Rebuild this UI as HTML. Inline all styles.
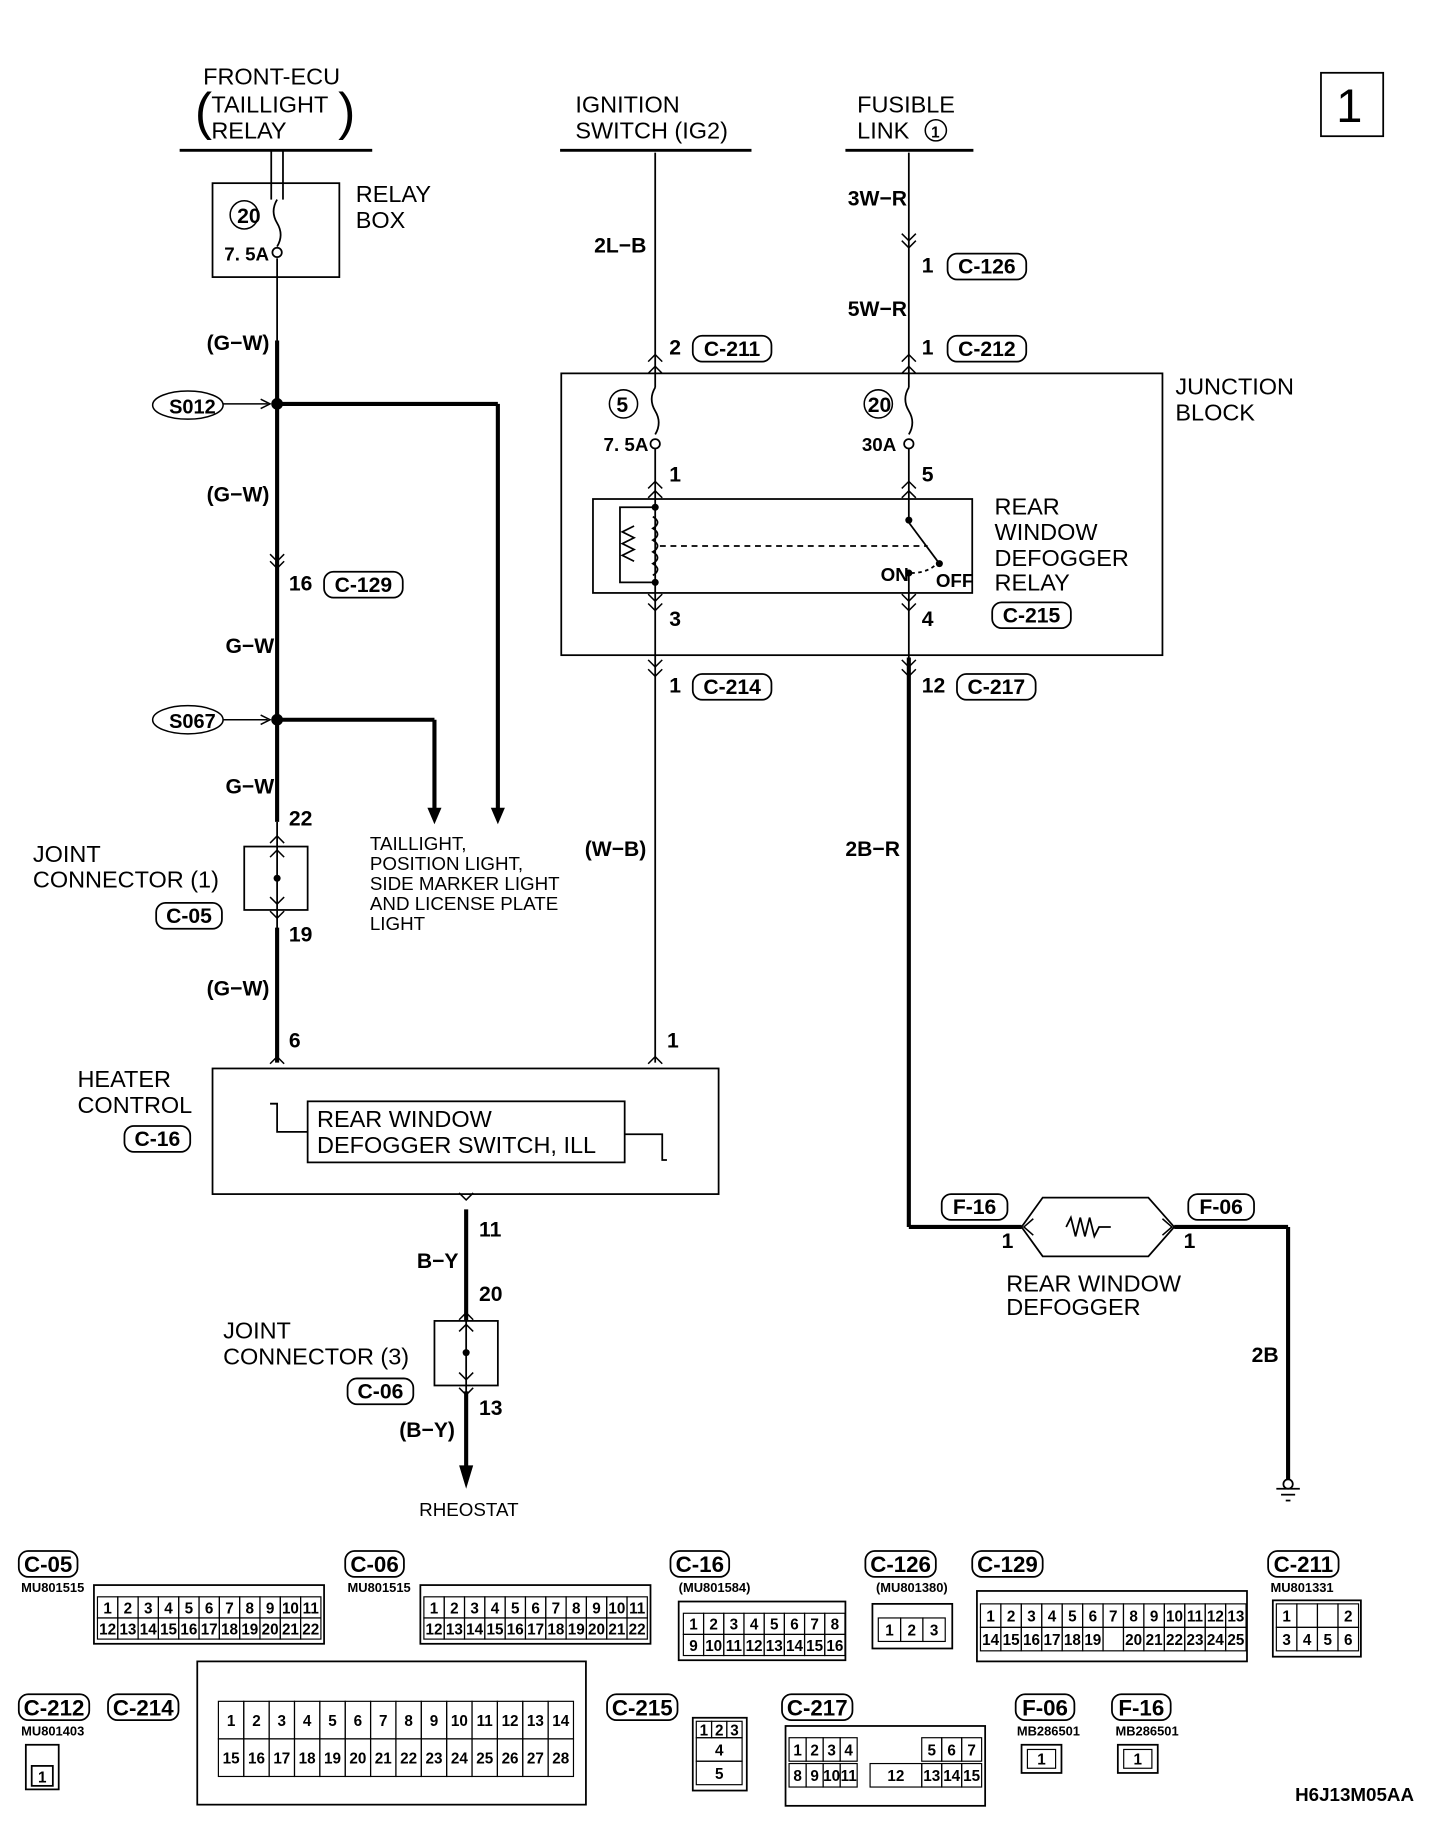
<!DOCTYPE html>
<html><head><meta charset="utf-8"><style>
html,body{margin:0;padding:0;background:#fff}
svg{display:block}
text{font-family:"Liberation Sans",sans-serif;fill:#000}
.b{font-weight:bold}
</style></head><body>
<svg id="s" width="1456" height="1834" viewBox="0 0 1240 1562" preserveAspectRatio="none" xmlns="http://www.w3.org/2000/svg">
<g fill="none" stroke="#000" stroke-width="1.5">
<rect x="1125" y="62" width="53" height="54"/>
<line x1="153" y1="128" x2="317" y2="128" stroke-width="2.5"/>
<line x1="477" y1="128" x2="640" y2="128" stroke-width="2.5"/>
<line x1="720" y1="128" x2="829" y2="128" stroke-width="2.5"/>
<rect x="181" y="156" width="108" height="80"/>
<line x1="231" y1="128" x2="231" y2="170"/><line x1="241" y1="128" x2="241" y2="170"/>
<path d="M236 170 q-6 10 0 20 q6 10 0 20"/>
<circle cx="236" cy="215" r="4"/>
<rect x="478" y="318" width="512" height="240"/>
<rect x="505" y="425" width="323" height="80"/>
<rect x="208" y="721" width="54" height="54"/>
<rect x="181" y="910" width="431" height="107"/>
<rect x="262" y="938" width="270" height="52"/>
<path d="M230 940 h6 v24 h26"/><path d="M532 966 h32 v22 h4"/>
<rect x="370" y="1125" width="54" height="55"/>
<line x1="236" y1="220" x2="236" y2="290"/>
<line x1="558" y1="130" x2="558" y2="330"/>
<line x1="774" y1="130" x2="774" y2="330"/>
<path d="M558 330 q-6 10 0 20 q6 10 0 20"/><circle cx="558" cy="378" r="4"/>
<path d="M774 330 q-6 10 0 20 q6 10 0 20"/><circle cx="774" cy="378" r="4"/>
<line x1="558" y1="382" x2="558" y2="600"/>
<line x1="774" y1="382" x2="774" y2="445"/>
<line x1="774" y1="445" x2="800" y2="480"/>
<line x1="774" y1="488" x2="774" y2="560"/>
<path d="M558 432 h-30 v64 h30"/>
<path d="M540 448 l-10 5 l10 5 l-10 5 l10 5 l-10 5 l10 5" />
<path d="M556 440 q8 5 0 10 q8 5 0 10 q8 5 0 10 q8 5 0 10 q8 5 0 10"/>
<line x1="562" y1="465" x2="790" y2="465" stroke-dasharray="5,4"/>
<path d="M776 488 q14 0 22 -8" stroke-dasharray="3,3"/>
<line x1="236" y1="700" x2="236" y2="800"/>
<line x1="397" y1="1100" x2="397" y2="1200"/>
<line x1="558" y1="600" x2="558" y2="905"/>
<path d="M870 1045 l18 -25 h90 l22 25 l-22 25 h-90 z"/>
<path d="M908 1045 l4 -8 l4 16 l4 -16 l4 16 l4 -16 l4 16 l4 -8 h10"/>
<line x1="1087" y1="1268" x2="1107" y2="1268"/><line x1="1091" y1="1273" x2="1103" y2="1273"/><line x1="1095" y1="1278" x2="1099" y2="1278"/>
<circle cx="1097" cy="1264" r="4"/>
</g>
<g fill="none" stroke="#000" stroke-width="3.5">
<line x1="236" y1="290" x2="236" y2="700"/>
<line x1="236" y1="344" x2="424" y2="344"/><line x1="424" y1="344" x2="424" y2="690"/>
<line x1="236" y1="613" x2="370" y2="613"/><line x1="370" y1="613" x2="370" y2="690"/>
<line x1="236" y1="790" x2="236" y2="905"/>
<line x1="397" y1="1030" x2="397" y2="1125"/>
<line x1="397" y1="1185" x2="397" y2="1250"/>
<line x1="774" y1="560" x2="774" y2="1045"/><line x1="774" y1="1045" x2="870" y2="1045"/>
<line x1="1000" y1="1045" x2="1097" y2="1045"/><line x1="1097" y1="1045" x2="1097" y2="1260"/>
</g>
<g fill="#000">
<circle cx="236" cy="344" r="5"/><circle cx="236" cy="613" r="5"/>
<path d="M418 688 h12 l-6 14 z"/><path d="M364 688 h12 l-6 14 z"/>
<path d="M391 1248 h12 l-6 20 z"/>
<circle cx="236" cy="748" r="3"/><circle cx="397" cy="1152" r="3"/>
<circle cx="558" cy="432" r="3"/><circle cx="558" cy="496" r="3"/>
<circle cx="774" cy="443" r="3"/><circle cx="800" cy="480" r="3"/><circle cx="774" cy="488" r="3"/>
</g>
<g id="marks" fill="none" stroke="#000" stroke-width="1.3"></g>
<g fill="none" stroke="#000" stroke-width="1.3">
<ellipse cx="160" cy="345" rx="30" ry="12"/><line x1="190" y1="344" x2="228" y2="344"/><path d="M222 340 l8 4 l-8 4"/>
<ellipse cx="160" cy="613" rx="30" ry="12"/><line x1="190" y1="613" x2="228" y2="613"/><path d="M222 609 l8 4 l-8 4"/>
<circle cx="208" cy="183" r="12"/><circle cx="531" cy="344" r="12"/><circle cx="748" cy="344" r="12"/><circle cx="797" cy="111" r="9"/>
</g>
<g id="tags" fill="none" stroke="#000" stroke-width="1.5"></g>
<text x="1138" y="104" font-size="40">1</text>
<g font-size="20">
<text x="173" y="72">FRONT-ECU</text><text x="180" y="96">TAILLIGHT</text><text x="180" y="118">RELAY</text>
<text x="166" y="110" font-size="44">(</text><text x="288" y="110" font-size="44">)</text>
<text x="490" y="96">IGNITION</text><text x="490" y="118">SWITCH (IG2)</text>
<text x="730" y="96">FUSIBLE</text><text x="730" y="118">LINK</text>
<text x="303" y="172">RELAY</text><text x="303" y="194">BOX</text>
<text x="1001" y="336">JUNCTION</text><text x="1001" y="358">BLOCK</text>
<text x="847" y="438">REAR</text><text x="847" y="460">WINDOW</text><text x="847" y="482">DEFOGGER</text><text x="847" y="503">RELAY</text>
<text x="28" y="734">JOINT</text><text x="28" y="756">CONNECTOR (1)</text>
<text x="66" y="926">HEATER</text><text x="66" y="948">CONTROL</text>
<text x="270" y="960">REAR WINDOW</text><text x="270" y="982">DEFOGGER SWITCH, ILL</text>
<text x="190" y="1140">JOINT</text><text x="190" y="1162">CONNECTOR (3)</text>
<text x="857" y="1100">REAR WINDOW</text><text x="857" y="1120">DEFOGGER</text>
</g>
<g font-size="16">
<text x="315" y="724">TAILLIGHT,</text><text x="315" y="741">POSITION LIGHT,</text><text x="315" y="758">SIDE MARKER LIGHT</text><text x="315" y="775">AND LICENSE PLATE</text><text x="315" y="792">LIGHT</text>
<text x="357" y="1291">RHEOSTAT</text>
</g>
<g class="b" font-size="18">
<text x="202" y="190">20</text><text x="191" y="222" font-size="16">7. 5A</text>
<text x="525" y="351">5</text><text x="739" y="351">20</text>
<text x="514" y="384" font-size="16">7. 5A</text><text x="734" y="384" font-size="16">30A</text>
<text x="793" y="117" font-size="13">1</text>
<text x="176" y="298">(G−W)</text><text x="176" y="427">(G−W)</text><text x="192" y="556">G−W</text><text x="192" y="676">G−W</text><text x="176" y="848">(G−W)</text>
<text x="506" y="215">2L−B</text><text x="722" y="175">3W−R</text><text x="722" y="269">5W−R</text>
<text x="498" y="729">(W−B)</text><text x="720" y="729">2B−R</text><text x="355" y="1080">B−Y</text><text x="340" y="1224">(B−Y)</text><text x="1066" y="1160">2B</text>
<text x="144" y="352" font-size="17">S012</text><text x="144" y="620" font-size="17">S067</text>
<text x="246" y="503">16</text><text x="246" y="703">22</text><text x="246" y="802">19</text><text x="246" y="892">6</text>
<text x="568" y="892">1</text><text x="570" y="302">2</text><text x="570" y="410">1</text><text x="570" y="533">3</text><text x="570" y="590">1</text>
<text x="785" y="232">1</text><text x="785" y="302">1</text><text x="785" y="410">5</text><text x="785" y="533">4</text><text x="785" y="590">12</text>
<text x="408" y="1053">11</text><text x="408" y="1108">20</text><text x="408" y="1205">13</text>
<text x="853" y="1063">1</text><text x="1008" y="1063">1</text>
<text x="750" y="495" font-size="16">ON</text><text x="797" y="500" font-size="16">OFF</text>
<text x="1103" y="1534" font-size="16">H6J13M05AA</text>
</g>
<g id="conn"></g>
</svg>
<script>
var NS="http://www.w3.org/2000/svg",s=document.getElementById('s');
function el(t,a,p,txt){var e=document.createElementNS(NS,t);for(var k in a)e.setAttribute(k,a[k]);if(txt!=null)e.textContent=txt;(p||s).appendChild(e);return e;}
var tg=document.getElementById('tags'),cg=document.getElementById('conn');
function tag(x,y,t,w){w=w||(t.length*11+12);el('rect',{x:x,y:y-16,width:w,height:22,rx:8,fill:'none',stroke:'#000','stroke-width':1.5},tg);el('text',{x:x+w/2,y:y+1,'text-anchor':'middle','font-size':18,'font-weight':'bold'},cg,t);}
tag(807,232,'C-126');tag(590,302,'C-211');tag(807,302,'C-212');tag(276,503,'C-129');tag(845,529,'C-215');
tag(590,590,'C-214');tag(815,590,'C-217');tag(133,785,'C-05');tag(106,975,'C-16');tag(296,1190,'C-06');
tag(802,1033,'F-16');tag(1012,1033,'F-06');
var mg=document.getElementById('marks');
function mk(x,y,up){var d=up?-6:6;el('path',{d:'M'+(x-6)+' '+(y-d)+' L'+x+' '+y+' L'+(x+6)+' '+(y-d)},mg);}
[[236,478],[236,484],[774,205],[774,211]].forEach(function(p){mk(p[0],p[1],false)});
[[558,302],[558,312],[774,302],[774,312],[558,410],[558,418],[774,410],[774,418],[236,712],[236,724],[397,1118],[397,1128],[236,900],[558,900]].forEach(function(p){mk(p[0],p[1],true)});
[[558,512],[558,520],[774,512],[774,520],[558,568],[558,576],[774,568],[774,576],[236,770],[236,782],[397,1022],[397,1175],[397,1188]].forEach(function(p){mk(p[0],p[1],false)});
el('path',{d:'M880 1038 l-8 7 l8 7 M990 1038 l8 7 l-8 7',fill:'none',stroke:'#000','stroke-width':1.3},mg);
function btag(x,y,t){var w=t.length*10+10;el('rect',{x:x,y:y-17,width:w,height:22,rx:8,fill:'none',stroke:'#000','stroke-width':1.5},cg);el('text',{x:x+w/2,y:y+1,'text-anchor':'middle','font-size':19,'font-weight':'bold'},cg,t);}
function small(x,y,t){el('text',{x:x,y:y,'font-size':11,'font-weight':'bold'},cg,t);}
function grid(x,y,rows,cw,ch){rows.forEach(function(r,i){r.forEach(function(n,j){var cx=x+j*cw,cy=y+i*ch;el('rect',{x:cx,y:cy,width:cw,height:ch,fill:'none',stroke:'#000','stroke-width':1},cg);if(n!=='')el('text',{x:cx+cw/2,y:cy+ch/2+5,'text-anchor':'middle','font-size':13,'font-weight':'bold'},cg,n);});});}
function rng(a,b){var r=[];for(var i=a;i<=b;i++)r.push(String(i));return r;}
function box(x,y,w,h,sw){el('rect',{x:x,y:y,width:w,height:h,fill:'none',stroke:'#000','stroke-width':sw||1.5},cg);}
btag(16,1338,'C-05');small(18,1356,'MU801515');box(80,1350,196,50);grid(83,1360,[rng(1,11),rng(12,22)],17.3,18);
btag(294,1338,'C-06');small(296,1356,'MU801515');box(358,1350,196,50);grid(361,1360,[rng(1,11),rng(12,22)],17.3,18);
btag(571,1338,'C-16');small(578,1356,'(MU801584)');box(578,1364,142,50);grid(582,1374,[rng(1,8),rng(9,16)],17.2,18);
btag(737,1338,'C-126');small(746,1356,'(MU801380)');box(743,1366,68,38);grid(748,1378,[['1','2','3']],19,20);
btag(828,1338,'C-129');box(832,1355,230,60);grid(835,1366,[rng(1,13),['14','15','16','17','18','19','','20','21','22','23','24','25']],17.4,20);
btag(1080,1338,'C-211');small(1082,1356,'MU801331');box(1084,1363,75,48);
grid(1087,1366,[['1','','','2'],['3','4','5','6']],17.5,20);
btag(16,1460,'C-212');small(18,1478,'MU801403');box(22,1486,28,38);box(27,1504,18,17);el('text',{x:36,y:1518,'text-anchor':'middle','font-size':13,'font-weight':'bold'},cg,'1');
btag(92,1460,'C-214');box(168,1415,331,122);grid(186,1449,[rng(1,14),rng(15,28)],21.6,32);
btag(517,1460,'C-215');box(590,1463,46,62);grid(593,1466,[['1','2','3']],13,14);grid(593,1480,[['4'],['5']],39,20);
btag(666,1460,'C-217');box(669,1470,170,68);
grid(672,1480,[['1','2','3','4']],14.5,20);grid(672,1502,[['8','9','10','11']],14.5,20);grid(785,1480,[['5','6','7']],17,20);grid(785,1502,[['13','14','15']],17,20);grid(741,1502,[['12']],44,20);
btag(865,1460,'F-06');small(866,1478,'MB286501');box(870,1486,34,24);grid(875,1490,[['1']],24,16);
btag(947,1460,'F-16');small(950,1478,'MB286501');box(952,1486,34,24);grid(957,1490,[['1']],24,16);
</script>
</body></html>
